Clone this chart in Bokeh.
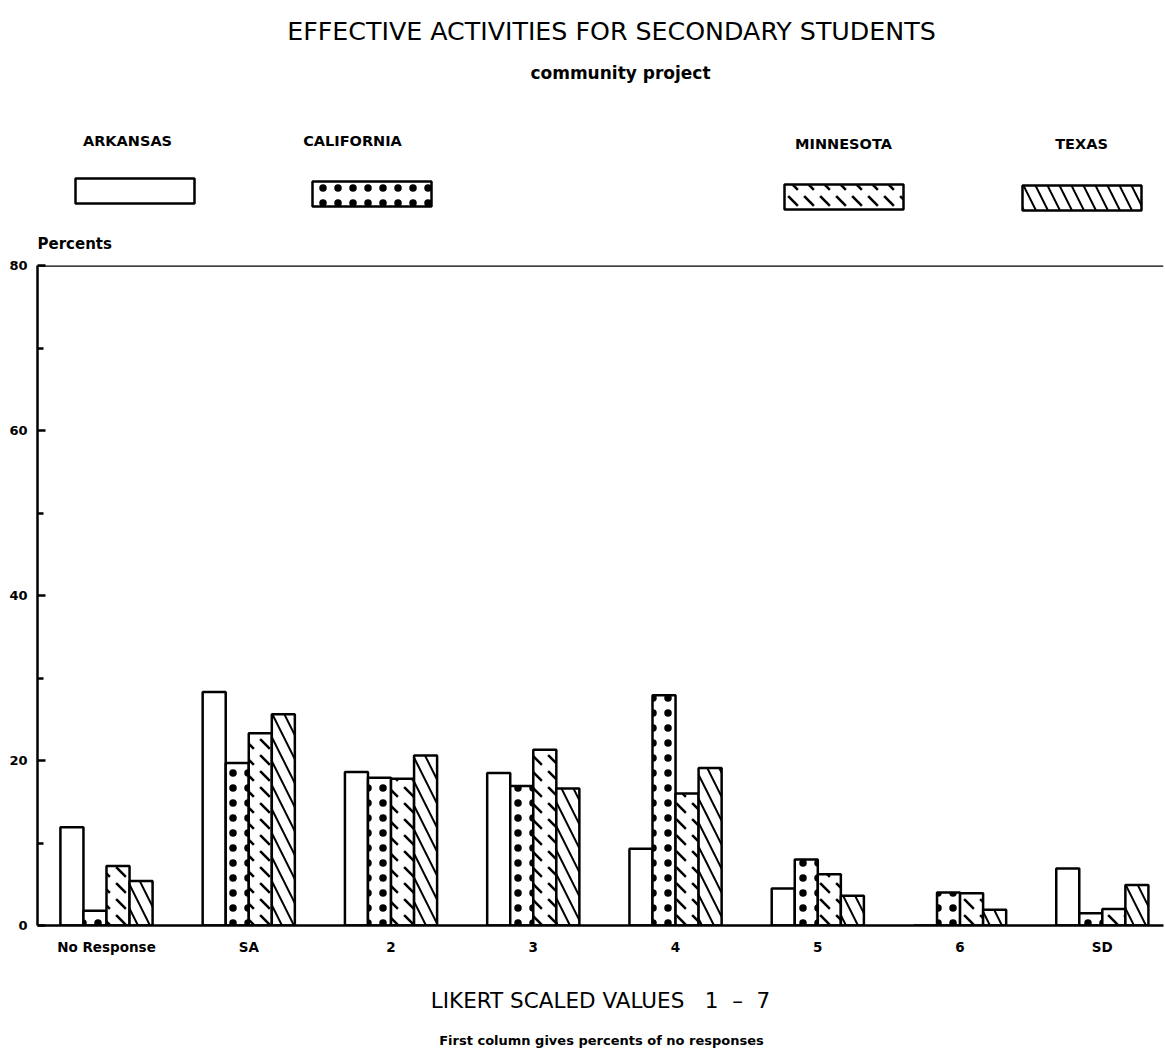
from bokeh.plotting import figure
from bokeh.layouts import column
from bokeh.models import Range1d, FixedTicker, Span
from bokeh.core.properties import value
from bokeh.embed import file_html
from bokeh.resources import INLINE

# ---------------- data ----------------
title_text = "EFFECTIVE ACTIVITIES FOR SECONDARY STUDENTS"
subtitle_text = "community project"
categories = ["No Response", "SA", "2", "3", "4", "5", "6", "SD"]
states = ["ARKANSAS", "CALIFORNIA", "MINNESOTA", "TEXAS"]
arkansas = [11.9, 28.3, 18.6, 18.5, 9.3, 4.5, 0.0, 6.9]
california = [1.8, 19.7, 17.9, 16.9, 27.9, 8.0, 4.0, 1.5]
minnesota = [7.2, 23.3, 17.8, 21.3, 16.0, 6.2, 3.9, 2.0]
texas = [5.4, 25.6, 20.6, 16.6, 19.1, 3.6, 1.9, 4.9]
y_ticks = [0, 20, 40, 60, 80]
y_minor_ticks = [10, 30, 50, 70]
y_label = "Percents"
x_label = "LIKERT SCALED VALUES\u00a0\u00a0\u00a01\u00a0\u00a0\u2013\u00a0\u00a07"
footnote = "First column gives percents of no responses"

series = [arkansas, california, minnesota, texas]

# ---------------- styling ----------------
W = 1165
TOP_H = 255
MAIN_H = 765
BOT_H = 1059 - TOP_H - MAIN_H
FRAME_L = 37
FRAME_R = 1163
FONT = "DejaVu Sans"

hatch_styles = [
    dict(hatch_pattern=" ", hatch_scale=12, hatch_weight=1),
    dict(hatch_pattern="dot", hatch_scale=15, hatch_weight=1.8),
    dict(hatch_pattern="left_diagonal_dash", hatch_scale=16, hatch_weight=2.5),
    dict(hatch_pattern="left_diagonal_line", hatch_scale=24, hatch_weight=2),
]


def blank_fig(h):
    # frames of a column are aligned with the main chart's frame, so map page pixels
    f = figure(width=W, height=h, x_range=Range1d(FRAME_L, FRAME_R),
               y_range=Range1d(h, 0), toolbar_location=None,
               output_backend="svg", min_border=0)
    f.axis.visible = False
    f.grid.visible = False
    f.outline_line_color = None
    return f


# ---------------- top: titles + legend ----------------
top = blank_fig(TOP_H)
top.text(x=[611], y=[31], text=[title_text], text_font=value(FONT),
         text_font_size="25.3px", text_align="center", text_baseline="middle",
         text_color="black")
top.text(x=[620], y=[72], text=[subtitle_text], text_font=value(FONT),
         text_font_size="17px", text_font_style="bold", text_align="center",
         text_baseline="middle", text_color="black")

legend_label_x = [127, 352, 843, 1081]
legend_label_y = [140, 140, 143, 143]
legend_box_left = [75, 312, 784, 1022]
legend_box_top = [178, 181, 184, 185]
for i, name in enumerate(states):
    top.text(x=[legend_label_x[i]], y=[legend_label_y[i]], text=[name],
             text_font=value(FONT), text_font_size="14.5px", text_font_style="bold",
             text_align="center", text_baseline="middle", text_color="black")
    top.quad(left=[legend_box_left[i]], right=[legend_box_left[i] + 119],
             top=[legend_box_top[i]], bottom=[legend_box_top[i] + 25],
             fill_color="white", line_color="black", line_width=2.5,
             hatch_color="black", **hatch_styles[i])

top.text(x=[37], y=[243], text=[y_label], text_font=value(FONT),
         text_font_size="15px", text_font_style="bold", text_align="left",
         text_baseline="middle", text_color="black")

# ---------------- main chart ----------------
p = figure(width=W, height=MAIN_H, x_range=Range1d(-0.485, 7.43),
           y_range=Range1d(0, 80), toolbar_location=None, output_backend="svg",
           min_border_left=FRAME_L, min_border_right=W - FRAME_R, min_border_top=10,
           min_border_bottom=95)
p.grid.visible = False
p.outline_line_color = None

bw = 0.162
offsets = [-1.5 * bw, -0.5 * bw, 0.5 * bw, 1.5 * bw]
for k, vals in enumerate(series):
    xs = [i + offsets[k] for i in range(len(categories))]
    p.vbar(x=xs, top=vals, bottom=0, width=bw, fill_color="white",
           line_color="black", line_width=2.5, hatch_color="black",
           **hatch_styles[k])

p.add_layout(Span(location=80, dimension="width", line_color="black",
                  line_width=2.5))

ya = p.yaxis[0]
ya.ticker = FixedTicker(ticks=y_ticks, minor_ticks=y_minor_ticks)
ya.axis_line_width = 2.5
ya.major_tick_in = 8
ya.major_tick_out = 0
ya.minor_tick_in = 6
ya.minor_tick_out = 0
ya.major_tick_line_width = 2.5
ya.minor_tick_line_width = 2.5
ya.major_label_text_font = FONT
ya.major_label_text_font_style = "bold"
ya.major_label_text_font_size = "13px"
ya.major_label_text_color = "black"
ya.major_label_standoff = 10

xa = p.xaxis[0]
xa.ticker = FixedTicker(ticks=list(range(len(categories))))
xa.major_label_overrides = {i: c for i, c in enumerate(categories)}
xa.axis_line_width = 2.5
xa.major_tick_line_color = None
xa.minor_tick_line_color = None
xa.major_tick_in = 0
xa.major_tick_out = 0
xa.major_label_text_font = FONT
xa.major_label_text_font_style = "bold"
xa.major_label_text_font_size = "13.5px"
xa.major_label_text_color = "black"
xa.major_label_standoff = 13
xa.axis_label = x_label
xa.axis_label_text_font = FONT
xa.axis_label_text_font_style = "normal"
xa.axis_label_text_font_size = "21.5px"
xa.axis_label_text_color = "black"
xa.axis_label_standoff = 30

# ---------------- bottom footnote ----------------
bot = blank_fig(BOT_H)
bot.text(x=[601], y=[20], text=[footnote], text_font=value(FONT),
         text_font_size="13px", text_font_style="bold", text_align="center",
         text_baseline="middle", text_color="black")

layout = column(top, p, bot, spacing=0)
open("out.html", "w").write(file_html(layout, INLINE))
